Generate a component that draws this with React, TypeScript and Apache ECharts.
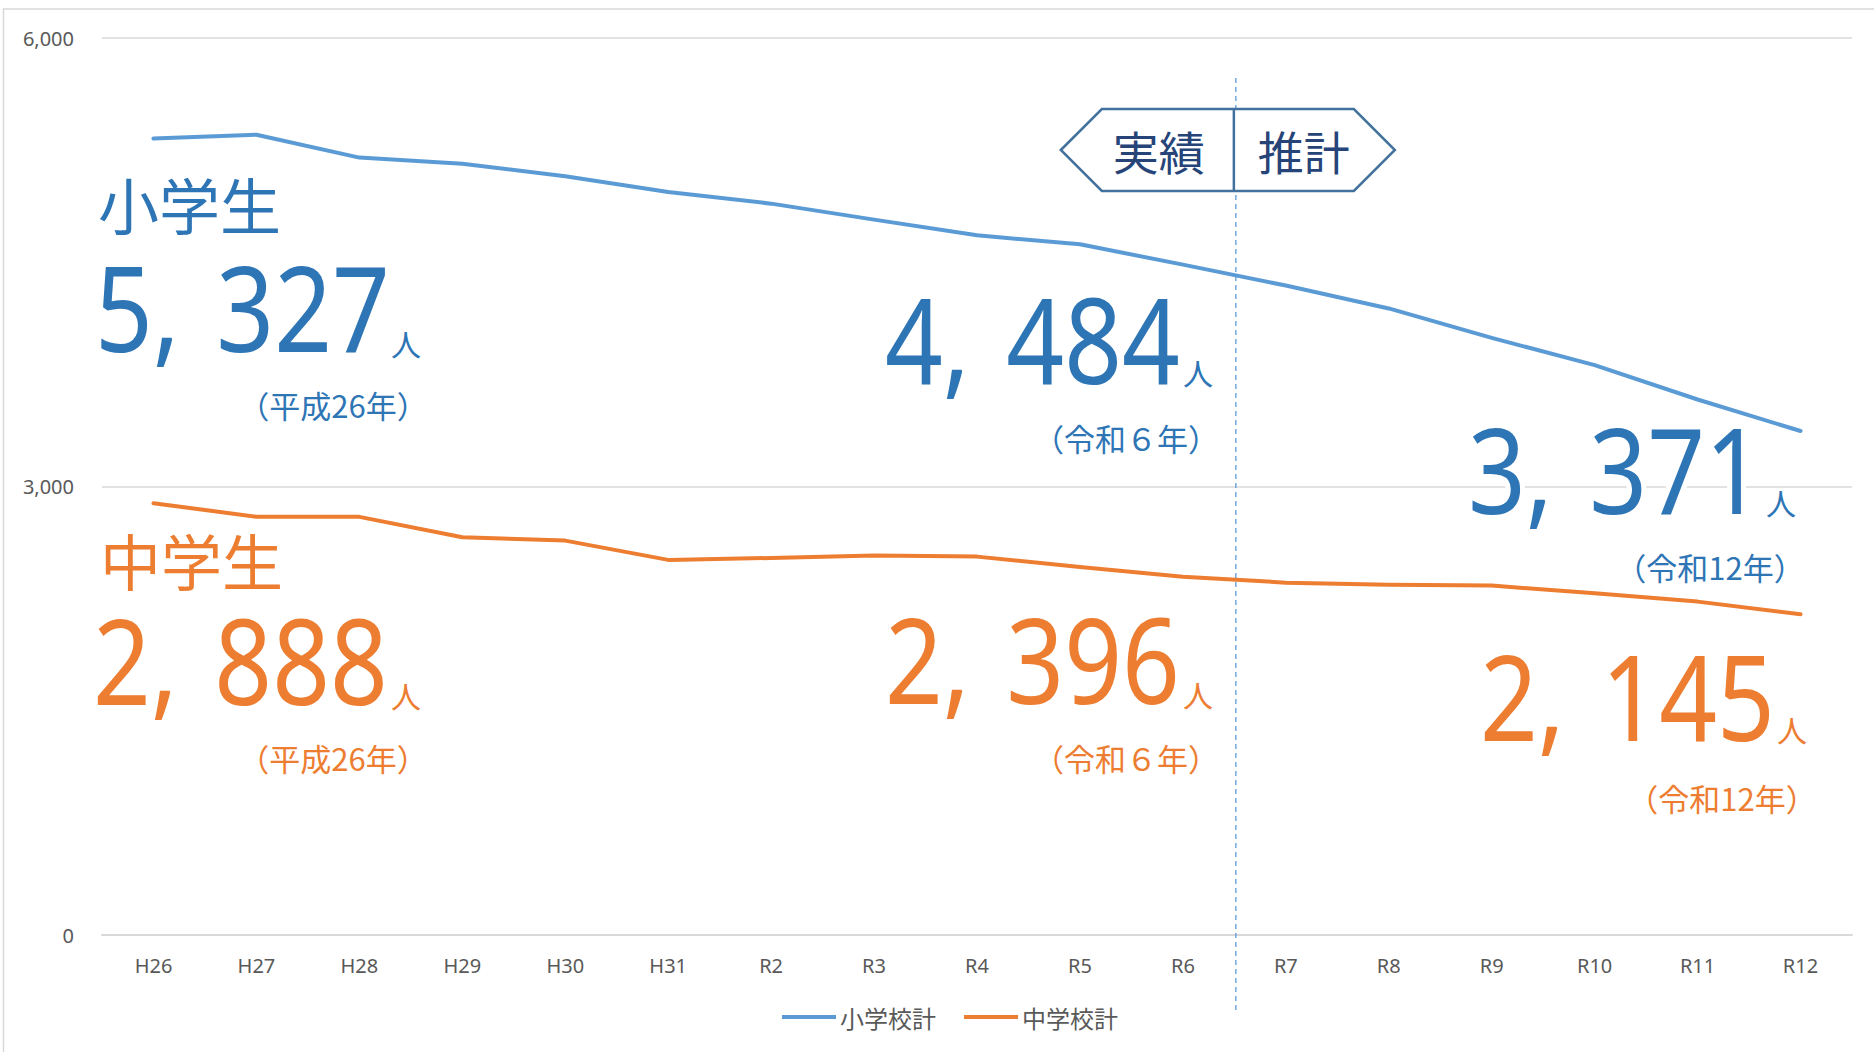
import React, { useEffect, useRef } from "react";
import * as echarts from "echarts";

const categories = ["H26", "H27", "H28", "H29", "H30", "H31", "R2", "R3", "R4", "R5", "R6", "R7", "R8", "R9", "R10", "R11", "R12"];
const elementary = [5327, 5353, 5200, 5159, 5075, 4970, 4892, 4785, 4680, 4620, 4484, 4344, 4191, 3994, 3812, 3582, 3371];
const juniorHigh = [2888, 2798, 2797, 2660, 2638, 2509, 2522, 2538, 2531, 2462, 2396, 2357, 2342, 2337, 2286, 2230, 2145];
const seriesNames = ["小学校計", "中学校計"];
const groupTitles = ["小学生", "中学生"];
const highlightIndex = [0, 10, 16];
const highlightEra = ["（平成26年）", "（令和６年）", "（令和12年）"];
const phaseLabels = ["実績", "推計"];
const yMin = 0;
const yMax = 6000;
const yInterval = 3000;

const BLUE_LINE = "#5B9BD5";
const ORANGE_LINE = "#ED7D31";
const BLUE_TEXT = "#2E75B6";
const ORANGE_TEXT = "#ED7D31";
const CJK = '"Noto Sans CJK JP", "Noto Sans", sans-serif';
const LATIN = '"Noto Sans", "Noto Sans CJK JP", sans-serif';

// annotation layout (pixel positions of the callouts)
const numLayout = [
  // [numX, numY, unitX, unitY, eraX, eraY] for each highlight, per series
  [
    [95, 306, 391, 343, 333, 404],
    [885, 338, 1183, 372, 1126, 437],
    [1468, 468, 1766, 502, 1710, 566],
  ],
  [
    [93, 659, 391, 695, 333, 757],
    [885, 658, 1183, 694, 1126, 757],
    [1480, 695, 1777, 729, 1722, 797],
  ],
];
const titleLayout = [
  [98, 203],
  [100, 559],
];

function fmt(v: number) {
  return v.toLocaleString("en-US").replace(",", ", \u200A");
}

function haloText(
  text: string,
  x: number,
  y: number,
  fontSize: number,
  family: string,
  fill: string,
  align: string,
  scaleX = 1,
  halo = 8
) {
  const base = {
    type: "text",
    x,
    y,
    scaleX,
    silent: true,
  };
  const style = {
    text,
    fontSize,
    fontFamily: family,
    align,
    verticalAlign: "middle",
    textAlign: align,
    textVerticalAlign: "middle",
  };
  return [
    { ...base, style: { ...style, fill: "#fff", stroke: "#fff", lineWidth: halo } },
    { ...base, style: { ...style, fill } },
  ];
}

export default function App() {
  const ref = useRef<HTMLDivElement>(null);

  useEffect(() => {
    if (!ref.current) return;
    const chart = echarts.init(ref.current, undefined, { renderer: "svg" });
    const option: any = {
      animation: false,
      backgroundColor: "#ffffff",
      grid: { left: 102, right: 22, top: 38, bottom: 117, containLabel: false },
      xAxis: {
        type: "category",
        data: categories,
        boundaryGap: true,
        axisLine: { show: true, lineStyle: { color: "#D9D9D9", width: 2 } },
        axisTick: { show: false },
        axisLabel: { color: "#595959", fontSize: 20, fontFamily: LATIN, margin: 20 },
      },
      yAxis: {
        type: "value",
        min: yMin,
        max: yMax,
        interval: yInterval,
        axisLine: { show: false },
        axisTick: { show: false },
        splitLine: { show: true, lineStyle: { color: "#D9D9D9", width: 1.5 } },
        axisLabel: {
          color: "#595959",
          fontSize: 20,
          fontFamily: LATIN,
          margin: 28,
          formatter: (v: number) => v.toLocaleString("en-US"),
        },
      },
      legend: {
        left: 777,
        top: 1000,
        icon: "rect",
        itemWidth: 54,
        itemHeight: 4,
        itemGap: 28,
        textStyle: { color: "#595959", fontSize: 24, fontFamily: CJK, padding: [0, 0, 0, -1] },
        data: seriesNames,
      },
      series: [
        {
          name: seriesNames[0],
          type: "line",
          data: elementary,
          symbol: "none",
          lineStyle: { color: BLUE_LINE, width: 4, join: "round", cap: "round" },
          itemStyle: { color: BLUE_LINE },
          z: 2,
        },
        {
          name: seriesNames[1],
          type: "line",
          data: juniorHigh,
          symbol: "none",
          lineStyle: { color: ORANGE_LINE, width: 4, join: "round", cap: "round" },
          itemStyle: { color: ORANGE_LINE },
          z: 2,
        },
      ],
    };
    chart.setOption(option);

    const xA = chart.convertToPixel({ xAxisIndex: 0 }, categories[10]) as number;
    const xB = chart.convertToPixel({ xAxisIndex: 0 }, categories[11]) as number;
    const xDiv = (xA + xB) / 2 + 1.5;

    const graphics: any[] = [];
    // outer frame
    graphics.push({
      type: "rect",
      silent: true,
      shape: { x: 3.5, y: 9, width: 1900, height: 1100 },
      style: { fill: "none", stroke: "#D9D9D9", lineWidth: 1.5 },
      z: -10,
    });
    // divider between actual and projected
    graphics.push({
      type: "line",
      silent: true,
      shape: { x1: xDiv, y1: 78, x2: xDiv, y2: 1013 },
      style: { stroke: BLUE_LINE, lineWidth: 1.3, lineDash: [5, 4] },
      z: 5,
    });
    // arrow box
    const top = 109, mid = 150, bot = 191;
    graphics.push({
      type: "polygon",
      silent: true,
      shape: {
        points: [
          [xDiv - 175, mid],
          [xDiv - 134, top],
          [xDiv + 118, top],
          [xDiv + 159, mid],
          [xDiv + 118, bot],
          [xDiv - 134, bot],
        ],
      },
      style: { fill: "#ffffff", stroke: "#41719C", lineWidth: 2.5 },
      z: 10,
    });
    graphics.push({
      type: "line",
      silent: true,
      shape: { x1: xDiv - 2, y1: top, x2: xDiv - 2, y2: bot },
      style: { stroke: "#41719C", lineWidth: 2.5 },
      z: 11,
    });
    graphics.push({
      type: "text",
      silent: true,
      x: xDiv - 77,
      y: mid,
      z: 11,
      style: { text: phaseLabels[0], fontSize: 46, fontFamily: CJK, fill: "#264478", align: "center", verticalAlign: "middle", textAlign: "center", textVerticalAlign: "middle" },
    });
    graphics.push({
      type: "text",
      silent: true,
      x: xDiv + 68,
      y: mid,
      z: 11,
      style: { text: phaseLabels[1], fontSize: 46, fontFamily: CJK, fill: "#264478", align: "center", verticalAlign: "middle", textAlign: "center", textVerticalAlign: "middle" },
    });

    // callouts
    const seriesData = [elementary, juniorHigh];
    const textColors = [BLUE_TEXT, ORANGE_TEXT];
    seriesData.forEach((arr, s) => {
      const col = textColors[s];
      graphics.push(...haloText(groupTitles[s], titleLayout[s][0], titleLayout[s][1], 61, CJK, col, "left", 1, 10));
      highlightIndex.forEach((idx, k) => {
        const [nx, ny, ux, uy, ex, ey] = numLayout[s][k];
        graphics.push(...haloText(fmt(arr[idx]), nx, ny, 119, LATIN, col, "left", 0.85, 12));
        graphics.push(...haloText("人", ux, uy, 30, CJK, col, "left", 1, 6));
        graphics.push(...haloText(highlightEra[k], ex, ey, 31, CJK, col, "center", 1, 6));
      });
    });

    chart.setOption({ graphic: graphics.map((g) => ({ z: g.z ?? 20, ...g })) });

    return () => {
      chart.dispose();
    };
  }, []);

  return (
    <div
      ref={ref}
      style={{ position: "fixed", left: 0, top: 0, width: 1874, height: 1052, background: "#fff" }}
    />
  );
}
